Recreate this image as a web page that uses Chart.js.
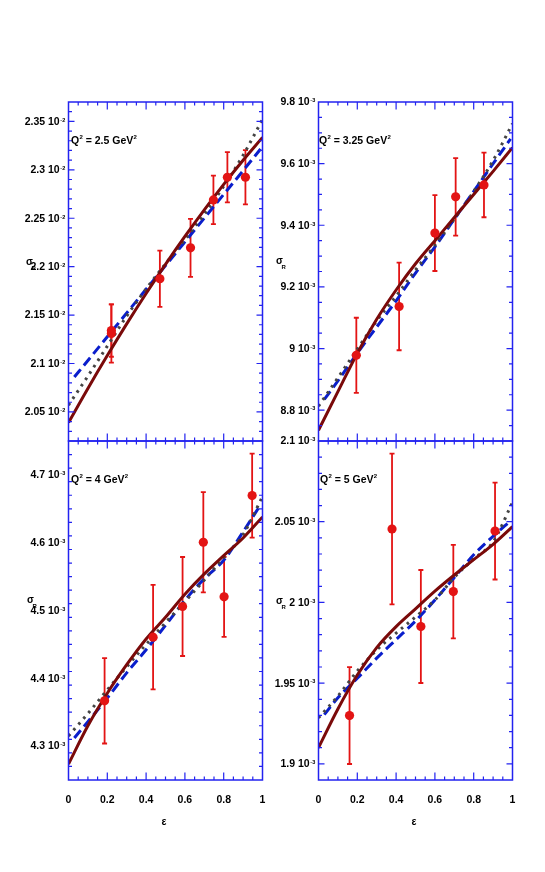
<!DOCTYPE html>
<html>
<head>
<meta charset="utf-8">
<script src="https://cdn.jsdelivr.net/npm/chart.js@4/dist/chart.umd.min.js"></script>
<style>
html, body { margin: 0; padding: 0; background: #fff; }
#wrap { position: relative; width: 545px; height: 872px; }
#wrap canvas { position: absolute; left: 0; top: 0; }
</style>
</head>
<body>
<div id="wrap">
	<canvas id="p1" width="545" height="872"></canvas>
	<canvas id="p2" width="545" height="872"></canvas>
	<canvas id="p3" width="545" height="872"></canvas>
	<canvas id="p4" width="545" height="872"></canvas>
</div>
<script>
// eps grid of the model curves
const curveEps = [0, 0.1, 0.2, 0.3, 0.4, 0.5, 0.6, 0.7, 0.8, 0.9, 1.0]
const dashEps = [0.03, 0.1, 0.2, 0.3, 0.4, 0.5, 0.6, 0.7, 0.8, 0.9, 0.99]
const xTickLabels = ["0", "0.2", "0.4", "0.6", "0.8", "1"]

// Q2 = 2.5 GeV2  (x 10^-2)
const q25Eps = [0.221, 0.221, 0.471, 0.629, 0.747, 0.819, 0.912]
const q25Val = [2.134, 2.131, 2.1875, 2.2194, 2.2689, 2.2923, 2.2923]
const q25Err = [0.027, 0.030, 0.029, 0.030, 0.025, 0.026, 0.028]
const q25Solid = [2.039, 2.0743, 2.1082, 2.1409, 2.1723, 2.2024, 2.2312, 2.2587, 2.285, 2.3099, 2.3335]
const q25Dot = [2.057, 2.087, 2.118, 2.149, 2.177, 2.203, 2.228, 2.254, 2.283, 2.315, 2.352]
const q25Dash = [2.086, 2.1031, 2.1276, 2.1521, 2.1766, 2.2011, 2.2256, 2.2501, 2.2746, 2.2991, 2.3215]
const q25Ticks = ["2.05", "2.1", "2.15", "2.2", "2.25", "2.3", "2.35"]

// Q2 = 3.25 GeV2  (x 10^-3)
const q325Eps = [0.195, 0.4155, 0.6, 0.707, 0.853]
const q325Val = [8.978, 9.1365, 9.3747, 9.4922, 9.531]
const q325Err = [0.122, 0.142, 0.123, 0.126, 0.105]
const q325Solid = [8.735, 8.86, 8.985, 9.095, 9.19, 9.275, 9.35, 9.425, 9.5, 9.575, 9.652]
const q325Dot = [8.813, 8.905, 8.998, 9.09, 9.17, 9.255, 9.335, 9.42, 9.51, 9.61, 9.73]
const q325Dash = [8.835, 8.895, 8.985, 9.07, 9.155, 9.245, 9.33, 9.42, 9.51, 9.6, 9.68]
const q325Ticks = ["8.8", "9", "9.2", "9.4", "9.6", "9.8"]

// Q2 = 4 GeV2  (x 10^-3)
const q4Eps = [0.186, 0.436, 0.588, 0.695, 0.802, 0.9466]
const q4Val = [4.3668, 4.4607, 4.5059, 4.6007, 4.5201, 4.6695]
const q4Err = [0.063, 0.077, 0.073, 0.074, 0.059, 0.062]
const q4Solid = [4.2735, 4.33, 4.378, 4.42, 4.458, 4.49, 4.524, 4.554, 4.581, 4.607, 4.638]
const q4Dot = [4.315, 4.348, 4.383, 4.417, 4.45, 4.482, 4.513, 4.545, 4.578, 4.612, 4.668]
const q4Dash = [4.312, 4.336, 4.371, 4.408, 4.442, 4.478, 4.515, 4.547, 4.574, 4.616, 4.656]
const q4Ticks = ["4.3", "4.4", "4.5", "4.6", "4.7"]

// Q2 = 5 GeV2  (x 10^-3)
const q5Eps = [0.16, 0.379, 0.5276, 0.695, 0.91]
const q5Val = [1.9299, 2.0455, 1.9851, 2.0067, 2.0442]
const q5Err = [0.030, 0.0467, 0.035, 0.029, 0.030]
const q5Solid = [1.91, 1.934, 1.955, 1.972, 1.985, 1.996, 2.007, 2.017, 2.0265, 2.036, 2.047]
const q5Dot = [1.9285, 1.942, 1.9575, 1.9705, 1.981, 1.991, 2.0015, 2.0155, 2.027, 2.0375, 2.062]
const q5Dash = [1.9305, 1.941, 1.953, 1.9655, 1.977, 1.9885, 2.0015, 2.0155, 2.0295, 2.041, 2.0505]
const q5Ticks = ["1.9", "1.95", "2", "2.05", "2.1"]

const RED = "#e31414"
const MAROON = "#7a0a0a"
const DASHBLUE = "#0a1ecc"
const DOTGREY = "#444444"
const FRAME = "#2323f0"
const FONT = '"Liberation Sans", Arial, Helvetica, sans-serif'

function pairs(xs, ys) {
	return xs.map((x, i) => ({ x: x, y: ys[i] }))
}

// texte com expoente (tick labels "2.35 10^-2")
function drawPow(ctx, mant, exp, xr, y) {
	ctx.font = "bold 5.5px " + FONT
	let ew = ctx.measureText(exp).width
	ctx.textAlign = "left"
	ctx.textBaseline = "alphabetic"
	ctx.fillText(exp, xr - ew, y + 0.3)
	ctx.font = "bold 10.5px " + FONT
	ctx.textAlign = "right"
	ctx.textBaseline = "middle"
	ctx.fillText(mant + " 10", xr - ew - 0.6, y + 0.5)
}

function drawQ2(ctx, x, y, val) {
	ctx.textAlign = "left"
	ctx.textBaseline = "alphabetic"
	ctx.font = "bold 10.5px " + FONT
	ctx.fillText("Q", x, y)
	x += ctx.measureText("Q").width + 0.3
	ctx.font = "bold 6px " + FONT
	ctx.fillText("2", x, y - 5)
	x += ctx.measureText("2").width
	ctx.font = "bold 10.5px " + FONT
	let t = " = " + val + " GeV"
	ctx.fillText(t, x, y)
	x += ctx.measureText(t).width + 0.3
	ctx.font = "bold 6px " + FONT
	ctx.fillText("2", x, y - 5)
}

function makePanel(id, p) {
	const framePlugin = {
		id: "frame" + id,
		beforeDatasetsDraw(chart) {
			const ctx = chart.ctx, xs = chart.scales.x, ys = chart.scales.y
			ctx.save()
			ctx.strokeStyle = RED
			ctx.lineWidth = 1.8
			p.eps.forEach((e, i) => {
				let px = xs.getPixelForValue(e)
				let top = ys.getPixelForValue(p.val[i] + p.err[i])
				let bot = ys.getPixelForValue(p.val[i] - p.err[i])
				ctx.beginPath()
				ctx.moveTo(px, top); ctx.lineTo(px, bot)
				ctx.moveTo(px - 2.5, top); ctx.lineTo(px + 2.5, top)
				ctx.moveTo(px - 2.5, bot); ctx.lineTo(px + 2.5, bot)
				ctx.stroke()
			})
			ctx.restore()
		},
		afterDraw(chart) {
			const ctx = chart.ctx, a = chart.chartArea
			const xs = chart.scales.x, ys = chart.scales.y
			ctx.save()
			// moldura
			ctx.strokeStyle = FRAME
			ctx.lineWidth = 1.5
			ctx.strokeRect(a.left, a.top, a.right - a.left, a.bottom - a.top)
			// ticks x
			ctx.lineWidth = 1.2
			ctx.beginPath()
			for (let i = 1; i < 20; i++) {
				let px = xs.getPixelForValue(i * 0.05)
				let len = i % 4 == 0 ? 7.5 : 3.5
				ctx.moveTo(px, a.bottom); ctx.lineTo(px, a.bottom - len)
				ctx.moveTo(px, a.top); ctx.lineTo(px, a.top + len)
			}
			// ticks y
			let n = Math.round((p.yMax - p.yMin) / p.yMinor)
			for (let i = 1; i < n; i++) {
				let v = p.yMin + i * p.yMinor
				let r = v / p.yMajor
				let major = Math.abs(r - Math.round(r)) < 1e-6
				let py = ys.getPixelForValue(v)
				let len = major ? 6 : 3.5
				ctx.moveTo(a.left, py); ctx.lineTo(a.left + len, py)
				ctx.moveTo(a.right, py); ctx.lineTo(a.right - len, py)
			}
			ctx.stroke()

			ctx.fillStyle = "#000"
			p.ticks.forEach(t => {
				drawPow(ctx, t, p.exp, a.left - 3.3, ys.getPixelForValue(parseFloat(t)))
			})

			drawQ2(ctx, a.left + p.qdx, a.top + 42, p.q2)

			// sigma_R
			ctx.textAlign = "left"
			ctx.textBaseline = "alphabetic"
			ctx.font = "bold 10px " + FONT
			ctx.fillText("σ", p.sx, p.sy)
			ctx.font = "bold 6px " + FONT
			ctx.fillText("R", p.sx + 5.5, p.sy + 5)

			if (p.bottom) {
				ctx.font = "bold 10.5px " + FONT
				ctx.textAlign = "center"
				ctx.textBaseline = "middle"
				xTickLabels.forEach(t => {
					ctx.fillText(t, xs.getPixelForValue(parseFloat(t)), 800)
				})
				ctx.font = "bold 10.5px " + FONT
				ctx.fillText("ε", (a.left + a.right) / 2 - 1.5, 822)
			}
			ctx.restore()
		},
	}

	const lineDs = (xs, ys, color, dash, w) => ({
		type: "line",
		data: pairs(xs, ys),
		borderColor: color,
		borderWidth: w,
		borderDash: dash,
		pointRadius: 0,
		cubicInterpolationMode: "monotone",
		fill: false,
	})

	const ds = [
		{
			type: "scatter",
			data: pairs(p.eps, p.val),
			backgroundColor: RED,
			borderWidth: 0,
			pointRadius: 4.6,
			order: 0,
		},
		Object.assign(lineDs(curveEps, p.solid, MAROON, [], 3), { order: 1 }),
		Object.assign(lineDs(dashEps, p.dash, DASHBLUE, [10, 5], 3), { order: 3 }),
		Object.assign(lineDs(curveEps, p.dot, DOTGREY, [2.6, 5], 3), { order: 2 }),
	]

	return new Chart(document.getElementById(id), {
		type: "scatter",
		data: { datasets: ds },
		options: {
			responsive: false,
			animation: false,
			events: [],
			layout: {
				padding: { left: p.rect[0], top: p.rect[1], right: 545 - p.rect[2], bottom: 872 - p.rect[3] },
			},
			plugins: { legend: { display: false }, tooltip: { enabled: false } },
			scales: {
				x: { type: "linear", min: 0, max: 1, display: false },
				y: { type: "linear", min: p.yMin, max: p.yMax, display: false },
			},
		},
		plugins: [framePlugin],
	})
}

makePanel("p1", {
	rect: [68.5, 102, 262.5, 441], yMin: 2.02, yMax: 2.37, yMajor: 0.05, yMinor: 0.01,
	eps: q25Eps, val: q25Val, err: q25Err, solid: q25Solid, dot: q25Dot, dash: q25Dash,
	ticks: q25Ticks, exp: "-2", q2: "2.5", qdx: 2.5, sx: 26, sy: 265, bottom: false,
})
makePanel("p2", {
	rect: [318.5, 102, 512.5, 441], yMin: 8.7, yMax: 9.8, yMajor: 0.2, yMinor: 0.05,
	eps: q325Eps, val: q325Val, err: q325Err, solid: q325Solid, dot: q325Dot, dash: q325Dash,
	ticks: q325Ticks, exp: "-3", q2: "3.25", qdx: 0.5, sx: 276, sy: 264, bottom: false,
})
makePanel("p3", {
	rect: [68.5, 441, 262.5, 780], yMin: 4.25, yMax: 4.75, yMajor: 0.1, yMinor: 0.02,
	eps: q4Eps, val: q4Val, err: q4Err, solid: q4Solid, dot: q4Dot, dash: q4Dash,
	ticks: q4Ticks, exp: "-3", q2: "4", qdx: 2.5, sx: 27, sy: 603, bottom: true,
})
makePanel("p4", {
	rect: [318.5, 441, 512.5, 780], yMin: 1.89, yMax: 2.1, yMajor: 0.05, yMinor: 0.01,
	eps: q5Eps, val: q5Val, err: q5Err, solid: q5Solid, dot: q5Dot, dash: q5Dash,
	ticks: q5Ticks, exp: "-3", q2: "5", qdx: 1.5, sx: 276, sy: 604, bottom: true,
})
</script>
</body>
</html>
